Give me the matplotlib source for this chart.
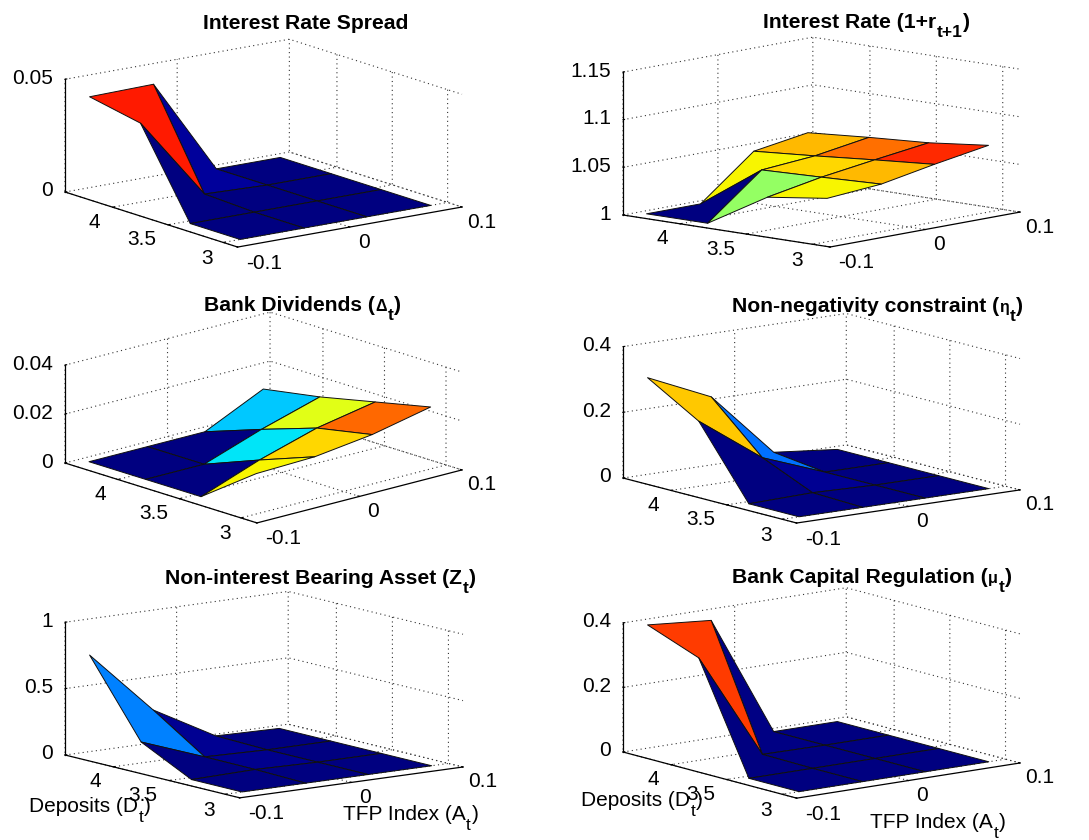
import numpy as np
import matplotlib
matplotlib.use("Agg")
import matplotlib.pyplot as plt
from mpl_toolkits.mplot3d import proj3d

plt.rcParams["font.family"] = ["Liberation Sans", "DejaVu Sans"]
plt.rcParams["grid.linestyle"] = (0, (1, 3))
plt.rcParams["grid.linewidth"] = 0.8
plt.rcParams["grid.color"] = "#333333"

W, H = 1089, 840

# grid of the policy functions
deposits = [3.0, 3.45, 3.9, 4.36]
tfp = [-0.085, -0.028, 0.028, 0.085]

# rows go with deposits, columns with tfp
z_spread = [[0, 0, 0, 0],
            [0, 0, 0, 0],
            [0.0375, 0.001, 0, 0],
            [0.042, 0.0425, 0, 0]]
z_rate = [[1.0455, 1.05, 1.0605, 1.070],
          [1.037, 1.0476, 1.0555, 1.063],
          [1.0, 1.0455, 1.05, 1.059],
          [1.0, 1.0, 1.045, 1.054]]
z_div = [[0.0165, 0.0172, 0.0202, 0.0253],
         [0, 0.0088, 0.0158, 0.0203],
         [0, 0, 0.0082, 0.0153],
         [0, 0, 0, 0.0113]]
z_eta = [[0, 0, 0, 0],
         [0, 0.005, 0, 0],
         [0.212, 0.072, 0, 0],
         [0.304, 0.217, 0.02, 0]]
z_asset = [[0, 0, 0, 0],
           [0, 0.01, 0, 0],
           [0.19, 0.012, 0, 0],
           [0.75, 0.27, 0.01, 0]]
z_mu = [[0, 0, 0, 0],
        [0, 0, 0, 0],
        [0.332, 0.002, 0, 0],
        [0.392, 0.375, 0, 0]]

zticks_spread = [0, 0.05]
zticks_rate = [1, 1.05, 1.1, 1.15]
zticks_div = [0, 0.02, 0.04]
zticks_eta = [0, 0.2, 0.4]
zticks_asset = [0, 0.5, 1]
zticks_mu = [0, 0.2, 0.4]

xticks = [-0.1, 0, 0.1]
xtick_labels = ["-0.1", "0", "0.1"]
yticks = [3, 3.5, 4]
ytick_labels = ["3", "3.5", "4"]
xlim = (-0.1, 0.1)
ylim = (2.87, 4.43)

# pixel offsets of the tick labels from their ticks
x_offsets = [(26, 16), (14, 15), (20, 15)]
y_offsets = [(-16, 16), (-26, 15), (-18, 15)]
z_offset = (-12, -1)

# title pieces are (text, size, drop in px)
title_spread = [("Interest Rate Spread", 15.2, 0)]
title_rate = [("Interest Rate (1+r", 15.2, 0), ("t+1", 12.5, 9), (")", 15.2, 0)]
title_div = [("Bank Dividends (", 15.2, 0), ("\u0394", 11.5, 0), ("t", 12.5, 9), (")", 15.2, 0)]
title_eta = [("Non-negativity constraint (", 15.2, 0), ("\u03b7", 11.5, 0), ("t", 12.5, 9), (")", 15.2, 0)]
title_asset = [("Non-interest Bearing Asset (Z", 15.2, 0), ("t", 12.5, 9), (")", 15.2, 0)]
title_mu = [("Bank Capital Regulation (", 15.2, 0), ("\u03bc", 11.5, 0), ("t", 12.5, 9), (")", 15.2, 0)]

label_dep = [("Deposits (D", 15, 0), ("t", 12.5, 10), (")", 15, 0)]
label_tfp = [("TFP Index (A", 15, 0), ("t", 12.5, 10), (")", 15, 0)]

# title, z, z ticks, elev, azim, box aspect, left corner px, right corner px, title start px
panels = [
    (title_spread, z_spread, zticks_spread, 13.8, -126.8, (280, 288, 116), (65, 192), (462, 207), (203, 29)),
    (title_rate, z_rate, zticks_rate, 9.7, -137.5, (281, 281, 145), (623, 215), (1020, 212), (763, 28)),
    (title_div, z_div, zticks_div, 16.5, -132.3, (277, 285, 102), (65, 463), (462, 470), (204, 311)),
    (title_eta, z_eta, zticks_eta, 11.3, -127.1, (280, 288, 134), (623, 478), (1020, 490), (732, 312)),
    (title_asset, z_asset, zticks_asset, 10.6, -126.9, (279, 291, 135), (65, 755), (463, 767), (165, 584)),
    (title_mu, z_mu, zticks_mu, 11.8, -127.6, (282, 285, 132), (623, 752), (1020, 763), (732, 583)),
]


def corner_px(ax, x, y, z):
    px, py, _ = proj3d.proj_transform(x, y, z, ax.get_proj())
    return ax.transData.transform((px, py))


def place(ax, left, right, zlo):
    # move and size the axes so the box corners land where they do in the picture
    size = 500
    ax.set_position([200 / W, 200 / H, size / W, size / H])
    ax.apply_aspect()
    a = corner_px(ax, xlim[0], ylim[1], zlo)
    b = corner_px(ax, xlim[1], ylim[0], zlo)
    size2 = size * (right[0] - left[0]) / (b[0] - a[0])
    ax.set_position([200 / W, 200 / H, size2 / W, size2 / H])
    ax.apply_aspect()
    a = corner_px(ax, xlim[0], ylim[1], zlo)
    dx = left[0] - a[0]
    dy = (H - left[1]) - a[1]
    ax.set_position([(200 + dx) / W, (200 + dy) / H, size2 / W, size2 / H])
    ax.apply_aspect()


def tick_label(ax, x, y, z, text, offset, ha):
    p = corner_px(ax, x, y, z)
    fig.text((p[0] + offset[0]) / W, (p[1] - offset[1]) / H, text, fontsize=15, ha=ha, va="center")


def pieces_text(pieces, start, weight):
    # text with a big subscript, one piece after the other
    x = start[0]
    renderer = fig.canvas.get_renderer()
    for text, size, drop in pieces:
        t = fig.text(x / W, 1 - (start[1] + drop) / H, text, fontsize=size, fontweight=weight,
                     ha="left", va="baseline")
        x += t.get_window_extent(renderer).width + 0.5


fig = plt.figure(figsize=(W / 100, H / 100), dpi=100)

X, Y = np.meshgrid(tfp, deposits)
for title, z, zticks, elev, azim, aspect, left, right, title_start in panels:
    Z = np.array(z, dtype=float)
    ax = fig.add_subplot(projection="3d", proj_type="ortho")
    ax.set_facecolor("none")
    colors = plt.cm.jet((Z - Z.min()) / (Z.max() - Z.min()))
    ax.plot_surface(X, Y, Z, facecolors=colors, shade=False, edgecolor="#101010",
                    linewidth=0.7, rstride=1, cstride=1)
    ax.set_xlim(*xlim, view_margin=0)
    ax.set_ylim(*ylim, view_margin=0)
    ax.set_zlim(zticks[0], zticks[-1], view_margin=0)
    ax.set_xticks(xticks)
    ax.set_yticks(yticks)
    ax.set_zticks(zticks)
    ax.set_xticklabels([])
    ax.set_yticklabels([])
    ax.set_zticklabels([])
    for axis in (ax.xaxis, ax.yaxis, ax.zaxis):
        axis.pane.fill = False
        axis.pane.set_edgecolor("none")
        axis.line.set_linewidth(0.9)
        axis._axinfo["tick"]["inward_factor"] = 0
        axis._axinfo["tick"]["outward_factor"] = 0.1
    ax.view_init(elev=elev, azim=azim)
    ax.set_box_aspect(aspect)
    place(ax, left, right, zticks[0])

    for t, lab, off in zip(xticks, xtick_labels, x_offsets):
        tick_label(ax, t, ylim[0], zticks[0], lab, off, "center")
    for t, lab, off in zip(yticks, ytick_labels, y_offsets):
        tick_label(ax, xlim[0], t, zticks[0], lab, off, "center")
    for t in zticks:
        tick_label(ax, xlim[0], ylim[1], t, f"{t:g}", z_offset, "right")
    pieces_text(title, title_start, "bold")

pieces_text(label_dep, (29, 812), "normal")
pieces_text(label_tfp, (343, 820), "normal")
pieces_text(label_dep, (581, 806), "normal")
pieces_text(label_tfp, (870, 828), "normal")

fig.savefig("out.png", dpi=100)
